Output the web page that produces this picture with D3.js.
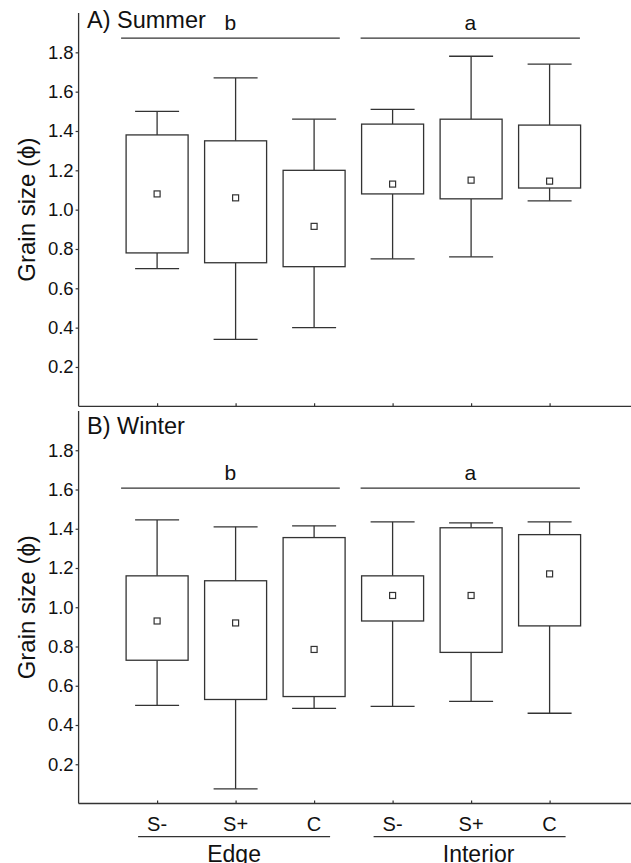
<!DOCTYPE html>
<html><head><meta charset="utf-8">
<script src="https://cdn.jsdelivr.net/npm/d3@7"></script>
<style>
body{margin:0;background:#fff;}
text{font-family:"Liberation Sans",Arial,Helvetica,sans-serif;fill:#111;}
</style></head>
<body><svg id="c" width="631" height="863"></svg>
<script>
// ---- data ----
const categories = ["S-","S+","C","S-","S+","C"];
const groups = ["Edge","Edge","Edge","Interior","Interior","Interior"];
const groupNames = ["Edge","Interior"];
const yTicks = [0.2,0.4,0.6,0.8,1.0,1.2,1.4,1.6,1.8];
// Summer
const summerWhiskerLow  = [0.70,0.34,0.40,0.75,0.76,1.045];
const summerBoxLow      = [0.78,0.73,0.71,1.08,1.055,1.11];
const summerMean        = [1.08,1.06,0.915,1.13,1.15,1.145];
const summerBoxHigh     = [1.38,1.35,1.20,1.435,1.46,1.43];
const summerWhiskerHigh = [1.50,1.67,1.46,1.51,1.78,1.74];
// Winter
const winterWhiskerLow  = [0.50,0.075,0.485,0.495,0.52,0.46];
const winterBoxLow      = [0.73,0.53,0.545,0.93,0.77,0.905];
const winterMean        = [0.93,0.92,0.785,1.06,1.06,1.17];
const winterBoxHigh     = [1.16,1.135,1.355,1.16,1.405,1.37];
const winterWhiskerHigh = [1.445,1.41,1.415,1.435,1.43,1.435];
const sigLetters = ["b","a"];
const summerSigLevel = 1.872;
const winterSigLevel = 1.607;

const svg = d3.select("#c");
const stroke = "#333";
const x = d3.scaleLinear().domain([0,7]).range([78.6, 78.6+7*78.5]);

function panel(cfg){
  const y = d3.scaleLinear().domain([0,2]).range([cfg.bottom, cfg.top]);
  const g = svg.append("g");
  // y axis
  const ya = g.append("g").attr("transform",`translate(${x(0)},0)`)
    .call(d3.axisLeft(y).tickValues(yTicks).tickFormat(d3.format(".1f")).tickSize(3).tickPadding(2));
  ya.select(".domain").attr("d",`M0,${cfg.bottom}V${cfg.top}`).attr("stroke",stroke).attr("stroke-width",1.3);
  ya.selectAll(".tick line").attr("stroke",stroke).attr("stroke-width",1.2);
  ya.selectAll(".tick text").style("font-size","18.5px").attr("fill","#111");
  // x axis
  const xa = g.append("g").attr("transform",`translate(0,${cfg.bottom})`)
    .call(d3.axisBottom(x).tickValues(d3.range(1,7)).tickSize(-3).tickFormat(""));
  xa.select(".domain").attr("d",`M${x(0)},0H631`).attr("stroke",stroke).attr("stroke-width",1.3);
  xa.selectAll(".tick line").attr("stroke",stroke).attr("stroke-width",1.2);
  // y label
  g.append("text").attr("transform",`translate(35,${(cfg.bottom+cfg.top)/2}) rotate(-90)`)
    .attr("text-anchor","middle").style("font-size","24px").text("Grain size (\u03D5)");
  // panel title
  g.append("text").attr("x",87).attr("y",cfg.titleY).style("font-size","23.5px").text(cfg.title);
  // boxes
  const idx = d3.range(6);
  const bw = 62, cw = 44;
  const bx = g.append("g").attr("stroke",stroke).attr("stroke-width",1.3).attr("fill","none");
  idx.forEach(i=>{
    const cx = x(i+1);
    bx.append("line").attr("x1",cx).attr("x2",cx).attr("y1",y(cfg.wh[i])).attr("y2",y(cfg.bh[i]));
    bx.append("line").attr("x1",cx).attr("x2",cx).attr("y1",y(cfg.bl[i])).attr("y2",y(cfg.wl[i]));
    bx.append("line").attr("x1",cx-cw/2).attr("x2",cx+cw/2).attr("y1",y(cfg.wh[i])).attr("y2",y(cfg.wh[i]));
    bx.append("line").attr("x1",cx-cw/2).attr("x2",cx+cw/2).attr("y1",y(cfg.wl[i])).attr("y2",y(cfg.wl[i]));
    bx.append("rect").attr("x",cx-bw/2).attr("width",bw).attr("y",y(cfg.bh[i])).attr("height",y(cfg.bl[i])-y(cfg.bh[i])).attr("fill","#fff");
    bx.append("rect").attr("x",cx-3).attr("y",y(cfg.mean[i])-3).attr("width",6).attr("height",6).attr("fill","#fff").attr("stroke-width",1.2);
  });
  // significance lines
  const sy = y(cfg.sig);
  const spans = [[x(1)-36, x(3)+25.7],[x(4)-32, x(6)+30.3]];
  spans.forEach((s,k)=>{
    g.append("line").attr("x1",s[0]).attr("x2",s[1]).attr("y1",sy).attr("y2",sy).attr("stroke",stroke).attr("stroke-width",1.3);
    g.append("text").attr("x",(s[0]+s[1])/2).attr("y",sy-8.5).attr("text-anchor","middle").style("font-size","21px").text(sigLetters[k]);
  });
  return y;
}

panel({top:13,bottom:406.3,title:"A) Summer",titleY:27.5,sig:summerSigLevel,
  wl:summerWhiskerLow,bl:summerBoxLow,mean:summerMean,bh:summerBoxHigh,wh:summerWhiskerHigh});
panel({top:411,bottom:803.5,title:"B) Winter",titleY:434.3,sig:winterSigLevel,
  wl:winterWhiskerLow,bl:winterBoxLow,mean:winterMean,bh:winterBoxHigh,wh:winterWhiskerHigh});

// category labels
svg.append("g").selectAll("text").data(categories).join("text")
  .attr("x",(d,i)=>x(i+1)).attr("y",830.7).attr("text-anchor","middle")
  .style("font-size","20px").text(d=>d);
// group lines & labels
const gInfo = groupNames.map(n=>{
  const ids = d3.range(6).filter(i=>groups[i]===n);
  return {name:n, x1:x(d3.min(ids)+1)-19, x2:x(d3.max(ids)+1)+16};
});
gInfo.forEach((gi,k)=>{
  svg.append("line").attr("x1",gi.x1).attr("x2",gi.x2).attr("y1",836.7).attr("y2",836.7).attr("stroke",stroke).attr("stroke-width",1.3);
  svg.append("text").attr("x",(gi.x1+gi.x2)/2 + (k===1?9:0)).attr("y",861.5).attr("text-anchor","middle")
    .style("font-size","23px").text(gi.name);
});
</script></body></html>
